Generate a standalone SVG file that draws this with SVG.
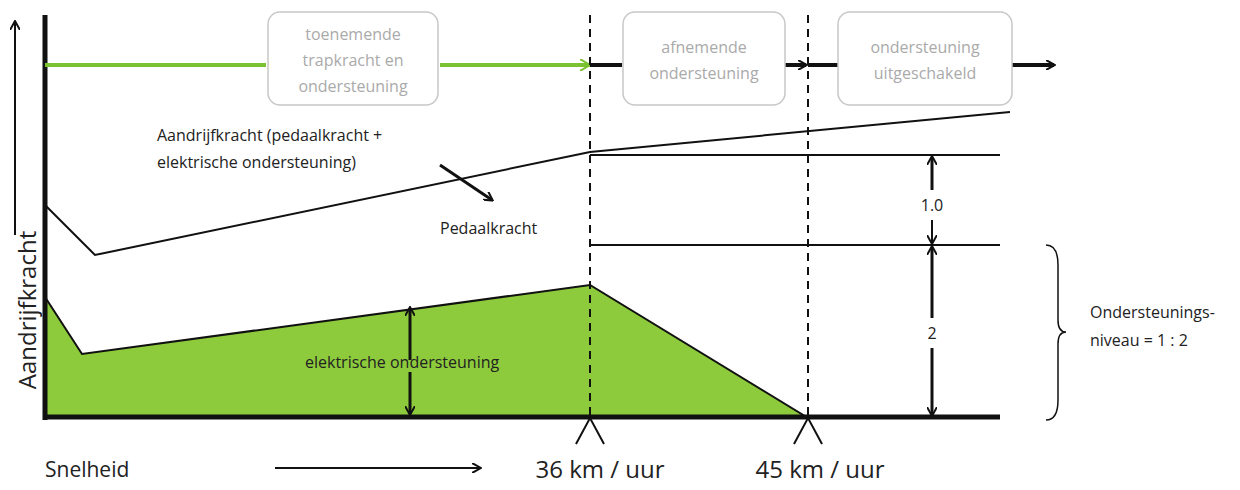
<svg xmlns="http://www.w3.org/2000/svg" width="1240" height="490" viewBox="0 0 1240 490">
<style>
text{font-family:"Open Sans","Liberation Sans",sans-serif;fill:#222}
.bx rect{fill:#fff;stroke:#c8c8c8;stroke-width:1.5}
.bx text{fill:#aaa;font-size:16px;text-anchor:middle}
.t{font-size:16px}
.dash{stroke:#111;stroke-width:2;stroke-dasharray:8,6}
</style>
<defs>
<marker id="ah" markerWidth="10" markerHeight="10" refX="8" refY="5" orient="auto" markerUnits="userSpaceOnUse"><path d="M0,0 L9,5 L0,10" fill="none" stroke="#111" stroke-width="2"/></marker>
<marker id="ag" markerWidth="12" markerHeight="12" refX="10" refY="6" orient="auto" markerUnits="userSpaceOnUse"><path d="M0,0 L10,6 L0,12" fill="none" stroke="#7ac231" stroke-width="2"/></marker>
<marker id="as" markerWidth="10" markerHeight="10" refX="5" refY="1" orient="auto-start-reverse" markerUnits="userSpaceOnUse"><path d="M0,9 L5,0 L10,9" fill="none" stroke="#111" stroke-width="2"/></marker>
</defs>
<polygon points="45,297 82,354 590,285 808,418 45,418" fill="#8dcb3c" stroke="#111" stroke-width="2"/>
<g id="connectors" fill="none" stroke="#111">
<line x1="15" y1="235" x2="15" y2="22" stroke-width="2" marker-end="url(#ah)"/>
<line x1="45" y1="15" x2="45" y2="420" stroke-width="5"/>
<line x1="45" y1="417" x2="1000" y2="417" stroke-width="5"/>
<line x1="45" y1="65" x2="266" y2="65" stroke="#7ac231" stroke-width="4"/>
<line x1="440" y1="65" x2="590" y2="65" stroke="#7ac231" stroke-width="4" marker-end="url(#ag)"/>
<line x1="590" y1="65" x2="622" y2="65" stroke-width="4"/>
<line x1="785" y1="65" x2="806" y2="65" stroke-width="4" marker-end="url(#ah)"/>
<line x1="808" y1="65" x2="838" y2="65" stroke-width="4"/>
<line x1="1012" y1="65" x2="1054" y2="65" stroke-width="4" marker-end="url(#ah)"/>
<line class="dash" x1="590" y1="15" x2="590" y2="418"/>
<line class="dash" x1="808" y1="15" x2="808" y2="418"/>
<polyline points="45,205 95,255 590,152 1010,112" stroke-width="2"/>
<line x1="590" y1="155" x2="1000" y2="155" stroke-width="2"/>
<line x1="590" y1="245" x2="1000" y2="245" stroke-width="2"/>
<line x1="932" y1="190" x2="932" y2="157" stroke-width="3" marker-end="url(#ah)"/>
<line x1="932" y1="220" x2="932" y2="243" stroke-width="2" marker-end="url(#ah)"/>
<line x1="932" y1="318" x2="932" y2="247" stroke-width="3" marker-end="url(#ah)"/>
<line x1="932" y1="348" x2="932" y2="415" stroke-width="3" marker-end="url(#ah)"/>
<line x1="410" y1="360" x2="410" y2="308" stroke-width="3" marker-end="url(#ah)"/>
<line x1="410" y1="372" x2="410" y2="414" stroke-width="3" marker-end="url(#ah)"/>
<line x1="440" y1="165" x2="492" y2="200" stroke-width="3" marker-end="url(#ah)"/>
<path d="M1046,245 Q1058,245 1058,265 L1058,320 Q1058,332 1066,332 Q1058,332 1058,344 L1058,400 Q1058,420 1046,420" stroke-width="1.5"/>
<polyline points="576,444 590,418 604,444" stroke-width="2"/>
<polyline points="794,444 808,418 822,444" stroke-width="2"/>
<line x1="275" y1="468" x2="480" y2="468" stroke-width="2" marker-end="url(#ah)"/>
</g>
<g id="box1" class="bx"><rect x="268" y="12" width="170" height="93" rx="12"/><text x="353" y="40">toenemende</text><text x="353" y="66">trapkracht en</text><text x="353" y="92">ondersteuning</text></g>
<g id="box2" class="bx"><rect x="623" y="12" width="162" height="93" rx="12"/><text x="704" y="53">afnemende</text><text x="704" y="79">ondersteuning</text></g>
<g id="box3" class="bx"><rect x="838" y="12" width="174" height="93" rx="12"/><text x="925" y="53">ondersteuning</text><text x="925" y="79">uitgeschakeld</text></g>
<g id="labels">
<text class="t" x="157" y="141">Aandrijfkracht (pedaalkracht +</text>
<text class="t" x="157" y="168">elektrische ondersteuning)</text>
<text class="t" x="440" y="234">Pedaalkracht</text>
<text class="t" x="305" y="368">elektrische ondersteuning</text>
<text class="t" x="932" y="211" text-anchor="middle">1.0</text>
<text class="t" x="932" y="339" text-anchor="middle">2</text>
<text class="t" x="1090" y="318">Ondersteunings-</text>
<text class="t" x="1090" y="346">niveau = 1 : 2</text>
<text x="36" y="310" font-size="24" text-anchor="middle" transform="rotate(-90 36 310)">Aandrijfkracht</text>
<text x="45" y="477" font-size="21">Snelheid</text>
<text x="600" y="478" font-size="24" text-anchor="middle">36 km / uur</text>
<text x="820" y="478" font-size="24" text-anchor="middle">45 km / uur</text>
</g>
</svg>
